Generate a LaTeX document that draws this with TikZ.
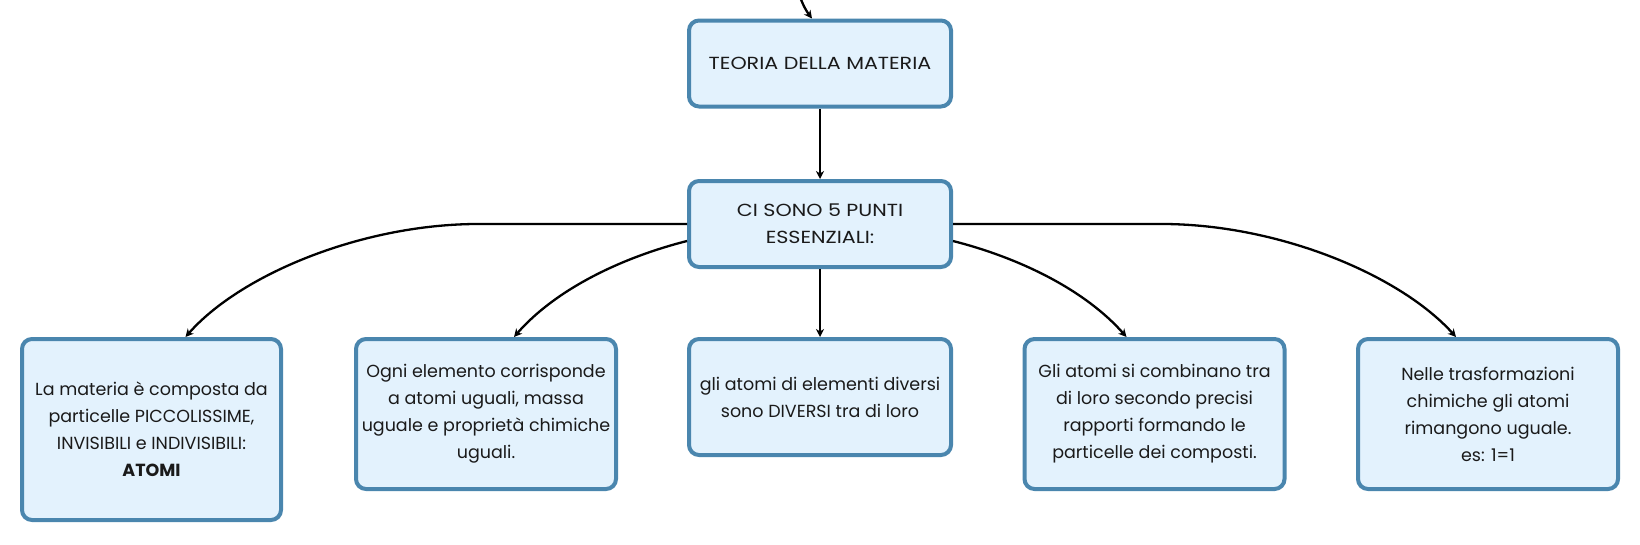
\documentclass[tikz,border=0pt]{standalone}
\usepackage{fontspec}
\setmainfont{Poppins}
\usetikzlibrary{arrows.meta}
\definecolor{boxblue}{HTML}{4A86AE}
\definecolor{boxfill}{HTML}{E3F2FD}
\definecolor{txt}{HTML}{1A1A1A}
\begin{document}
\begin{tikzpicture}[x=1pt,y=-1pt,
  box/.style={draw=boxblue,fill=boxfill,line width=4pt,rounded corners=10pt,
    align=center,text=txt,font=\fontsize{17.5}{27}\selectfont,inner sep=2pt},
  wide/.style={font=\fontsize{17.5}{27}\selectfont\addfontfeature{FakeStretch=1.18}},
  conn/.style={line width=2.3pt,-{Stealth[length=8pt,width=8pt,inset=2.5pt]}}]
\useasboundingbox (0,0) rectangle (1640,544);
\node[box,wide,minimum width=262,minimum height=86] (top) at (820,63.5) {TEORIA DELLA MATERIA};
\node[box,wide,minimum width=262,minimum height=86] (pts) at (820,224) {CI SONO 5 PUNTI\\ESSENZIALI:};
\node[box,minimum width=259,minimum height=181] (b1) at (151.5,429.5) {La materia è composta da\\particelle PICCOLISSIME,\\INVISIBILI e INDIVISIBILI:\\\textbf{ATOMI}};
\node[box,minimum width=260,minimum height=150] (b2) at (486,414) {Ogni elemento corrisponde\\a atomi uguali, massa\\uguale e proprietà chimiche\\uguali.};
\node[box,minimum width=262,minimum height=116] (b3) at (820,397) {gli atomi di elementi diversi\\sono DIVERSI tra di loro};
\node[box,minimum width=260,minimum height=150] (b4) at (1154.5,414) {Gli atomi si combinano tra\\di loro secondo precisi\\rapporti formando le\\particelle dei composti.};
\node[box,minimum width=260,minimum height=150] (b5) at (1488,414) {Nelle trasformazioni\\chimiche gli atomi\\rimangono uguale.\\es: 1=1};
\coordinate (src) at (800,-3);
\draw[conn] (src) to[bend right=8] ([xshift=-8pt]top.north);
\draw[conn] (top) -- (pts);
\draw[conn] (pts) -- (b3);
\draw[conn] (pts.west) -- (475,224) .. controls (360,225) and (240,275) .. ([xshift=34pt]b1.north);
\draw[conn] ([yshift=-17pt]pts.west) .. controls (620,258) and (555,290) .. ([xshift=28pt]b2.north);
\draw[conn] ([yshift=-17pt]pts.east) .. controls (1020,258) and (1085,290) .. ([xshift=-28pt]b4.north);
\draw[conn] (pts.east) -- (1165,224) .. controls (1280,225) and (1400,275) .. ([xshift=-32pt]b5.north);
\end{tikzpicture}
\end{document}
